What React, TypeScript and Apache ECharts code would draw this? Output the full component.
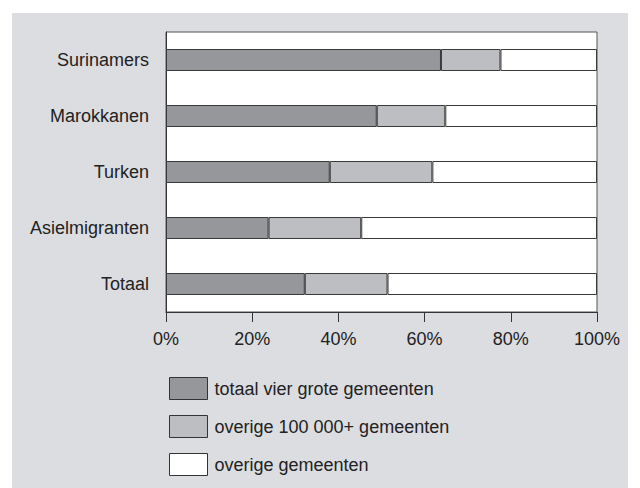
import React, { useEffect, useRef } from "react";
import * as echarts from "echarts";

const categories = ["Surinamers", "Marokkanen", "Turken", "Asielmigranten", "Totaal"];
const vierGrote = [63.8, 48.9, 38.0, 23.8, 32.2];
const overige100k = [13.8, 15.9, 23.8, 21.5, 19.2];
const overigeGemeenten = [22.4, 35.2, 38.2, 54.7, 48.6];
const seriesNames = ["totaal vier grote gemeenten", "overige 100 000+ gemeenten", "overige gemeenten"];
const xTicks = [0, 20, 40, 60, 80, 100];

const FONT = "'Liberation Sans', Arial, Helvetica, sans-serif";

export default function App() {
  const ref = useRef<HTMLDivElement>(null);
  useEffect(() => {
    if (!ref.current) return;
    const chart = echarts.init(ref.current, undefined, { renderer: "svg" });
    const colors = ["#96979a", "#bdbec1", "#ffffff"];
    const datas = [vierGrote, overige100k, overigeGemeenten];
    chart.setOption({
      animation: false,
      backgroundColor: "#ffffff",
      textStyle: { fontFamily: FONT },
      graphic: [
        {
          type: "rect",
          z: -10,
          silent: true,
          shape: { x: 12, y: 13, width: 616, height: 475 },
          style: { fill: "#dcdde0" },
        },
      ],
      grid: {
        left: 166,
        right: 43,
        top: 32,
        bottom: 176,
        show: true,
        backgroundColor: "#ffffff",
        borderColor: "#555555",
        borderWidth: 1,
        containLabel: false,
      },
      legend: {
        orient: "vertical",
        left: 169,
        top: 377,
        padding: 0,
        itemWidth: 38,
        itemHeight: 22,
        itemGap: 15,
        icon: "rect",
        data: seriesNames,
        textStyle: { fontFamily: FONT, fontSize: 18, color: "#222222", padding: [0, 0, 0, 2] },
        itemStyle: { borderColor: "#333333", borderWidth: 1 },
        selectedMode: false,
      },
      xAxis: {
        type: "value",
        min: xTicks[0],
        max: xTicks[xTicks.length - 1],
        interval: 20,
        axisLine: { show: true, lineStyle: { color: "#333333", width: 1 } },
        axisTick: { show: true, length: 10, lineStyle: { color: "#333333" } },
        splitLine: { show: false },
        axisLabel: {
          formatter: "{value}%",
          fontFamily: FONT,
          fontSize: 18,
          color: "#222222",
          margin: 18,
        },
      },
      yAxis: {
        type: "category",
        data: categories,
        inverse: true,
        axisLine: { show: true, lineStyle: { color: "#333333", width: 1 } },
        axisTick: { show: false },
        splitLine: { show: false },
        axisLabel: {
          fontFamily: FONT,
          fontSize: 18,
          color: "#222222",
          margin: 17,
        },
      },
      series: seriesNames.map((name, i) => ({
        name,
        type: "bar",
        stack: "total",
        barWidth: 22,
        data: datas[i],
        itemStyle: { color: colors[i], borderColor: "#3a3a3a", borderWidth: 1 },
      })),
    });
    return () => chart.dispose();
  }, []);
  return (
    <div
      ref={ref}
      style={{ position: "fixed", left: 0, top: 0, width: 640, height: 488 }}
    />
  );
}
